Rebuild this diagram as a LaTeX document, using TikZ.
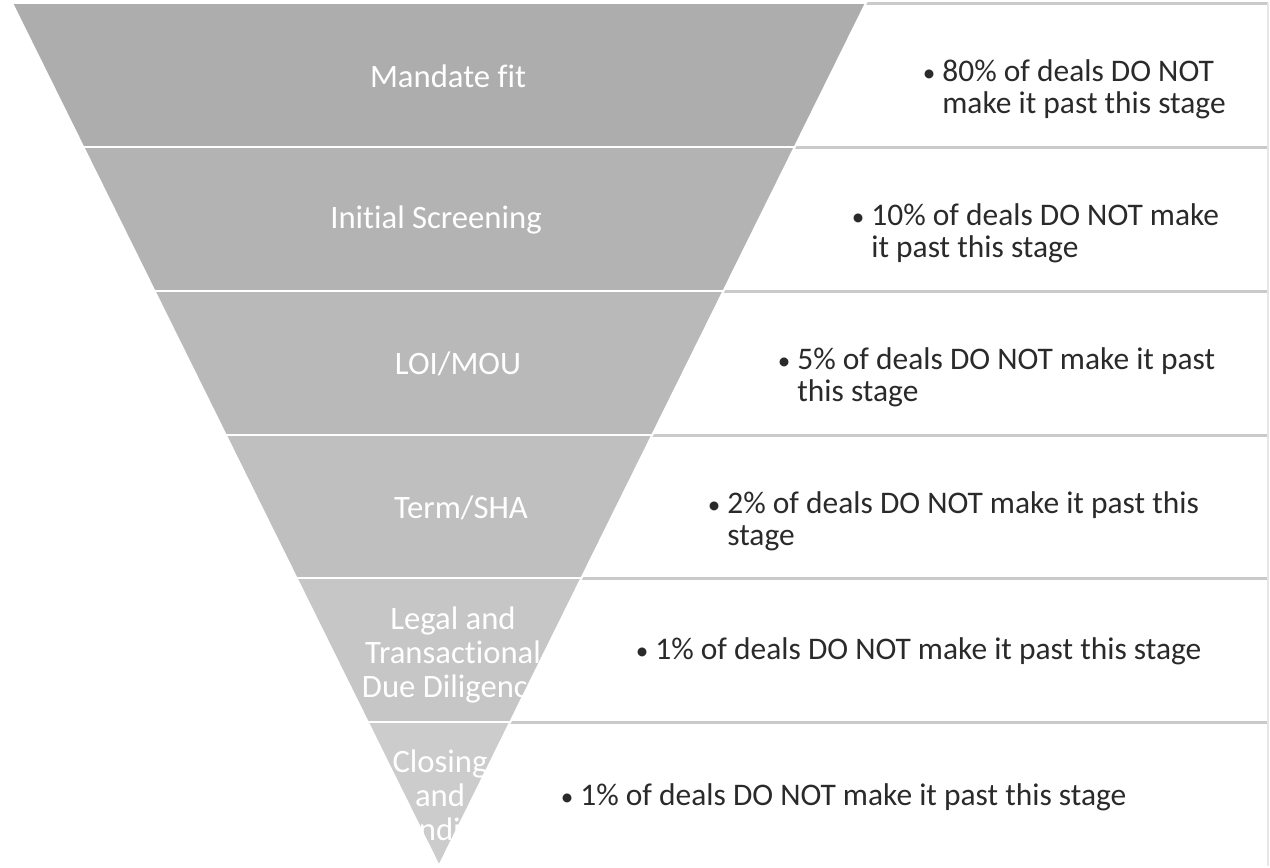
\documentclass[tikz,border=0pt]{standalone}
\usepackage{fontspec}
\setmainfont{Carlito}[Ligatures=NoCommon]
\usetikzlibrary{positioning,calc}
\definecolor{fnlgreyA}{HTML}{ADADAD}
\definecolor{fnlgreyB}{HTML}{B3B3B3}
\definecolor{fnlgreyC}{HTML}{B9B9B9}
\definecolor{fnlgreyD}{HTML}{BFBFBF}
\definecolor{fnlgreyE}{HTML}{C6C6C6}
\definecolor{fnlgreyF}{HTML}{CCCCCC}
\definecolor{fnlline}{HTML}{CACACA}
\definecolor{fnledge}{HTML}{E6E6E6}
\definecolor{fnltext}{HTML}{2A2A2A}
\newcommand{\fnlbullet}{\llap{\scalebox{0.8}{\textbullet}\hspace{4pt}}}

\begin{document}
\begin{tikzpicture}[x=0.02cm, y=-0.02cm,
    band/.style={draw=white, line width=1.1pt},
    stagelabel/.style={text=white, align=center, inner sep=0pt,
      font=\fontsize{18.6}{19.3}\selectfont},
    droptext/.style={text=fnltext, align=left, inner sep=0pt, anchor=base west,
      font=\fontsize{17.9}{18.2}\selectfont}]
\useasboundingbox (0,0) rectangle (1270,867);

% boxes behind the funnel
\foreach \y in {3,147,291,435,578,722}
  \draw[fnlline, line width=1.7pt] (439,\y) -- (1268,\y);
\draw[fnledge, line width=0.9pt] (1268,3) -- (1268,866);

% funnel bands
\foreach \ya/\yb/\c in {3/147/fnlgreyA, 147/291/fnlgreyB, 291/435/fnlgreyC,
                        435/578/fnlgreyD, 578/722/fnlgreyE, 722/866/fnlgreyF}
  \filldraw[band, fill=\c] ({12+(\ya-3)*0.49478},\ya) -- ({866-(\ya-3)*0.49478},\ya)
    -- ({866-(\yb-3)*0.49478},\yb) -- ({12+(\yb-3)*0.49478},\yb) -- cycle;

% stage names
\node[stagelabel] (mandate) at (448,76) {Mandate fit};
\node[stagelabel] (screening) at (436,220) {Initial Screening};
\node[stagelabel] (loi) at (458,364) {LOI/MOU};
\node[stagelabel] (term) at (461,508) {Term/SHA};
\node[stagelabel] (legal) at (453,655) {Legal and\\Transactional\\Due Diligence};
\node[stagelabel] (closing) at (440,798) {Closing\\and\\Funding};

% drop-out rates (base = last line)
\node[droptext] (dropA) at (942,113)
  {\fnlbullet 80\% of deals DO NOT\\make it past this stage};
\node[droptext] (dropB) at (871,257)
  {\fnlbullet 10\% of deals DO NOT make\\it past this stage};
\node[droptext] (dropC) at (797,401)
  {\fnlbullet 5\% of deals DO NOT make it past\\this stage};
\node[droptext] (dropD) at (727,545)
  {\fnlbullet 2\% of deals DO NOT make it past this\\stage};
\node[droptext] (dropE) at (655,659)
  {\fnlbullet 1\% of deals DO NOT make it past this stage};
\node[droptext] (dropF) at (580,805)
  {\fnlbullet 1\% of deals DO NOT make it past this stage};
\end{tikzpicture}
\end{document}
